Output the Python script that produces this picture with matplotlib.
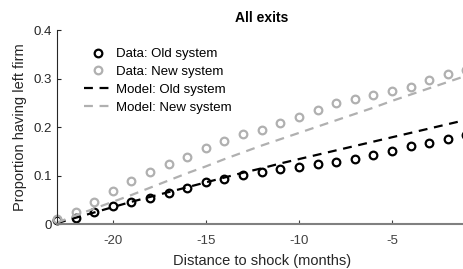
import numpy as np
import matplotlib
matplotlib.use("Agg")
from matplotlib import pyplot as plt

plt.rcParams['font.family'] = ['Liberation Sans', 'DejaVu Sans']
plt.rcParams['axes.unicode_minus'] = False

months = list(range(-23, 0))

data_old = [0.008, 0.012, 0.025, 0.038, 0.046, 0.053, 0.065, 0.075, 0.086, 0.093,
            0.101, 0.107, 0.113, 0.118, 0.123, 0.128, 0.135, 0.142, 0.151, 0.160,
            0.167, 0.175, 0.184]
data_new = [0.010, 0.025, 0.046, 0.069, 0.089, 0.107, 0.123, 0.139, 0.156, 0.171,
            0.185, 0.195, 0.209, 0.220, 0.235, 0.249, 0.257, 0.267, 0.274, 0.283,
            0.297, 0.309, 0.318]
model_old = [0.002, 0.013, 0.024, 0.035, 0.046, 0.056, 0.066, 0.076, 0.086, 0.096,
             0.106, 0.115, 0.125, 0.134, 0.143, 0.152, 0.161, 0.170, 0.179, 0.188,
             0.197, 0.206, 0.215]
model_new = [0.003, 0.018, 0.032, 0.046, 0.060, 0.075, 0.090, 0.105, 0.119, 0.134,
             0.148, 0.162, 0.175, 0.188, 0.201, 0.214, 0.227, 0.240, 0.254, 0.267,
             0.280, 0.293, 0.306]

xticks = [-20, -15, -10, -5]
yticks = [0, 0.1, 0.2, 0.3, 0.4]
ytick_labels = ['0', '0.1', '0.2', '0.3', '0.4']

fig = plt.figure(figsize=(4.64, 2.69), dpi=100)
ax = fig.add_axes([0.123, 0.167, 0.882, 0.721])

grey = '#b0b0b0'
ax.plot(months, data_old, 'o', mfc='none', mec='black', mew=1.6, ms=5.5,
        label='Data: Old system', clip_on=False)
ax.plot(months, data_new, 'o', mfc='none', mec=grey, mew=1.6, ms=5.5,
        label='Data: New system', clip_on=False)
ax.plot(months, model_old, '--', color='black', lw=1.6, dashes=(4, 3),
        label='Model: Old system')
ax.plot(months, model_new, '--', color=grey, lw=1.6, dashes=(4, 3),
        label='Model: New system')

ax.set_xlim(-23, -1)
ax.set_ylim(0, 0.4)
ax.set_xticks(xticks)
ax.set_yticks(yticks)
ax.set_yticklabels(ytick_labels)
ax.tick_params(direction='in', length=3, labelsize=9.5, colors='#262626')
ax.tick_params(axis='x', colors='#404040', pad=8)
for s in ['top', 'right']:
    ax.spines[s].set_visible(False)
ax.spines['left'].set_color('#262626')
ax.spines['left'].set_linewidth(0.8)
ax.spines['bottom'].set_color('#808080')
ax.spines['bottom'].set_linewidth(1.5)

ax.set_xlabel('Distance to shock (months)', fontsize=10.5, color='#262626', labelpad=5)
ax.set_ylabel('Proportion having left firm', fontsize=10.5, color='#262626', labelpad=5)
ax.set_title('All exits', fontsize=10, fontweight='bold', pad=6)

ax.legend(loc='upper left', frameon=False, fontsize=9.5, handlelength=2.2,
          handletextpad=0.2, labelspacing=0.42, borderaxespad=0.3,
          bbox_to_anchor=(0.043, 0.955))

fig.savefig('out.png', dpi=100)
